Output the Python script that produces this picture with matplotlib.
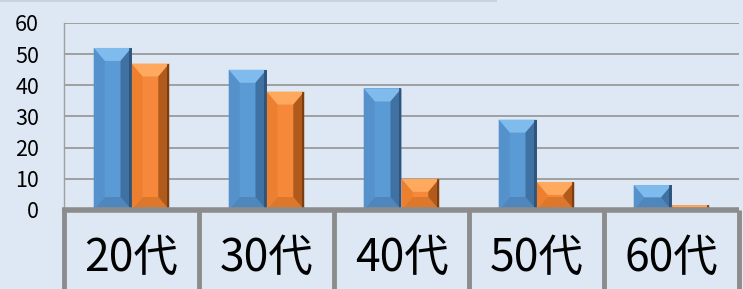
import numpy as np
import matplotlib.pyplot as plt
from matplotlib.patches import Polygon, Rectangle
from matplotlib.transforms import blended_transform_factory

plt.rcParams['font.family'] = ['Noto Sans CJK JP', 'DejaVu Sans']

# data
categories = ['20代', '30代', '40代', '50代', '60代']
series_a = [52, 45, 39, 29, 8]
series_b = [47, 38, 10, 9, 1.5]
yticks = [0, 10, 20, 30, 40, 50, 60]

bg = '#dee8f4'
grid_c = '#9a9a9a'
frame_c = '#8c8c8c'

fig = plt.figure(figsize=(7.43, 2.89), dpi=100, facecolor=bg)
ax = fig.add_axes([64/743, 79/289, 675/743, 187/289])
ax.set_facecolor(bg)

# thin strip at top left
fig.patches.append(Rectangle((0, 287/289), 497/743, 2/289, transform=fig.transFigure,
                             facecolor='#c9d2de', edgecolor='none'))

x = np.arange(len(categories))
w = 0.28
bars_a = ax.bar(x - w/2, series_a, w, color='#5b9bd5', zorder=3)
bars_b = ax.bar(x + w/2, series_b, w, color='#f5883a', zorder=3)

ax.set_xlim(-0.5, len(categories) - 0.5)
ax.set_ylim(0, 60)
ax.set_yticks(yticks)
ax.set_yticklabels([str(t) for t in yticks], fontsize=15.5)
ax.tick_params(axis='y', length=0, pad=18)
ax.set_xticks([])
ax.grid(axis='y', color=grid_c, linewidth=1.3, zorder=0)
for s in ['top', 'right', 'bottom']:
    ax.spines[s].set_visible(False)
ax.spines['left'].set_color('#a0a0a0')
ax.spines['left'].set_linewidth(1.0)

# bevel shading on the bars
px_x = (ax.get_xlim()[1] - ax.get_xlim()[0]) / 675.0
px_y = 60 / 187.0

def bevel(bars, top_c, left_c, right_c, bot_c, edge_c):
    for b in bars:
        x0, h, bw = b.get_x(), b.get_height(), b.get_width()
        x1 = x0 + bw
        dy = min(13 * px_y, h / 2)
        dx = 11 * px_x * dy / (13 * px_y)
        faces = [
            ([(x0, h), (x1, h), (x1 - dx, h - dy), (x0 + dx, h - dy)], top_c),
            ([(x0, 0), (x1, 0), (x1 - dx, dy), (x0 + dx, dy)], bot_c),
            ([(x0, 0), (x0 + dx, dy), (x0 + dx, h - dy), (x0, h)], left_c),
            ([(x1, 0), (x1 - dx, dy), (x1 - dx, h - dy), (x1, h)], right_c),
        ]
        for pts, c in faces:
            ax.add_patch(Polygon(pts, closed=True, facecolor=c, edgecolor='none', zorder=4))
        # dark edge on right side
        ax.add_patch(Rectangle((x1 - 2.5 * px_x, 0), 2.5 * px_x, h, facecolor=edge_c,
                               edgecolor='none', alpha=0.8, zorder=5))

bevel(bars_a, '#80bbee', '#5592cb', '#3f71a2', '#4f86bb', '#2b4f72')
bevel(bars_b, '#ffa95e', '#ec7f30', '#b05a1c', '#dd772c', '#6e3610')

# category table below the axis
tr = blended_transform_factory(ax.transData, ax.transAxes)
bottom_y = -79 / 187.0
ax.plot([-0.5 - 2 * px_x, len(categories) - 0.5], [0, 0], transform=tr, color=frame_c,
        linewidth=4, clip_on=False, zorder=6, solid_capstyle='butt')
for i in range(len(categories) + 1):
    ax.plot([i - 0.5, i - 0.5], [0, bottom_y], transform=tr, color=frame_c,
            linewidth=3.5, clip_on=False, zorder=6, solid_capstyle='butt')
for i, c in enumerate(categories):
    ax.text(i, -48 / 187.0, c, transform=tr, ha='center', va='center', fontsize=32, color='black')

fig.savefig('out.png', dpi=100, facecolor=bg)
